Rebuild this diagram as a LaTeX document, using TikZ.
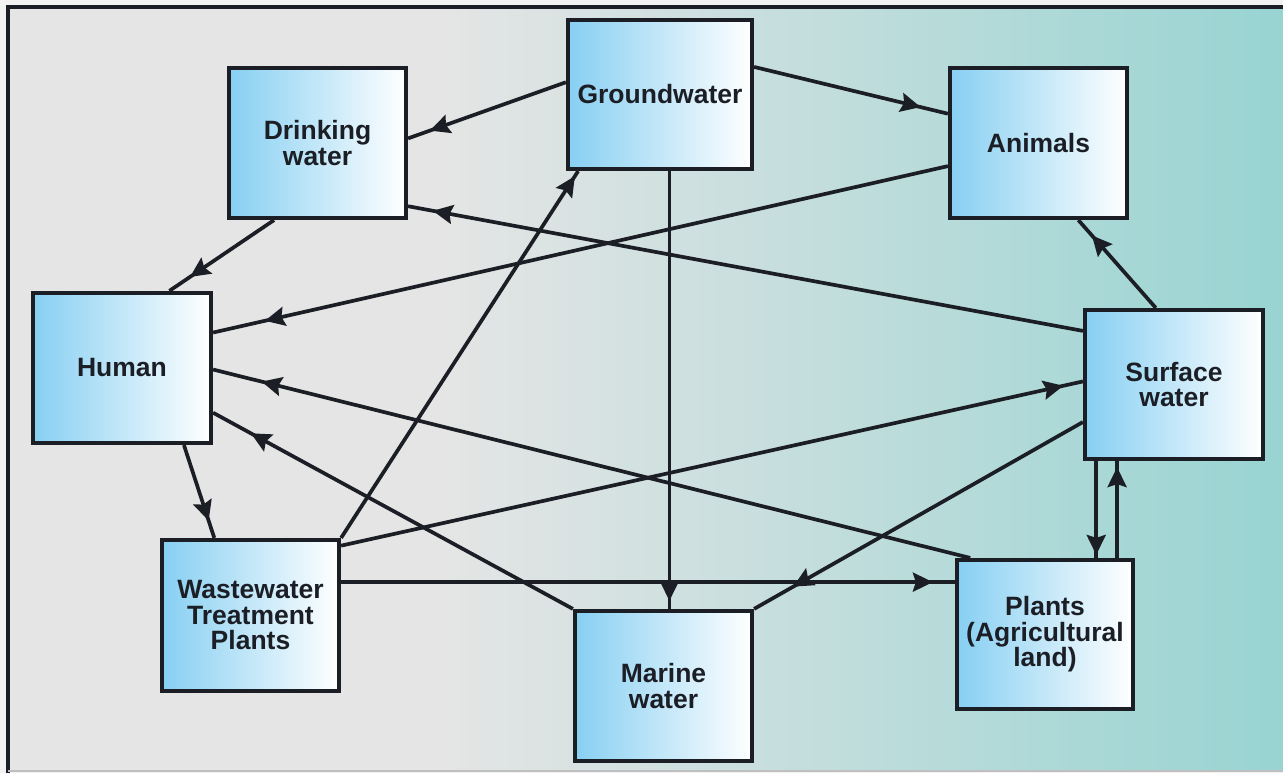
\documentclass[tikz,border=0pt]{standalone}
\usepackage{fontspec}
\setmainfont{Liberation Sans}
\usetikzlibrary{arrows.meta,decorations.markings,calc}
\definecolor{bgg}{RGB}{229,229,229}
\definecolor{bgt}{RGB}{152,212,210}
\definecolor{boxl}{RGB}{135,207,242}
\definecolor{ink}{RGB}{28,30,38}
\definecolor{outc}{RGB}{242,242,242}
\pgfdeclarehorizontalshading{bgsh}{100bp}{color(0bp)=(bgg); color(42bp)=(bgg); color(75bp)=(bgt); color(100bp)=(bgt)}
\begin{document}
\begin{tikzpicture}[x=1pt,y=-1pt,
 box/.style={draw=ink, line width=4.2pt, left color=boxl, right color=white,
   minimum width=177pt, minimum height=150pt, inner sep=0pt, align=center,
   font=\fontsize{26.5}{25.5}\selectfont\bfseries, text=ink},
 link/.style={draw=ink, line width=3.7pt},
 tipat/.style={postaction={decorate}, decoration={markings,
   mark=at position -#1 with {\arrow{Stealth[length=20pt,width=19pt,inset=3pt]}}}}
]
\useasboundingbox (0,0) rectangle (1283,773);
\fill[outc] (0,0) rectangle (1283,773);
\fill[shading=bgsh] (8,7) rectangle (1283,771);
\draw[ink, line width=4pt] (8,773) -- (8,7) -- (1283,7);
\draw[black!25, line width=1.5pt] (8,771) -- (1283,771);

% boxes
\node[box] (dw) at (317.5,143) {Drinking\\water};
\node[box, minimum width=184pt, minimum height=149pt] (gw) at (660,94.5) {Groundwater};
\node[box] (an) at (1038.5,143) {Animals};
\node[box, minimum width=178pt] (hu) at (122,368) {Human};
\node[box, minimum width=178pt, minimum height=149pt] (sw) at (1174,384.5) {Surface\\water};
\node[box, minimum height=151pt] (ww) at (250.5,615.5) {Wastewater\\Treatment\\Plants};
\node[box] (mw) at (663.5,686) {Marine\\water};
\node[box, minimum width=176pt, minimum height=149pt] (pl) at (1045,634.5) {Plants\\(Agricultural\\land)};

% anchor points on borders
\coordinate (gwW) at ($(gw.north west)!0.42!(gw.south west)$);
\coordinate (dwE1) at ($(dw.north east)!0.47!(dw.south east)$);
\coordinate (gwE) at ($(gw.north east)!0.32!(gw.south east)$);
\coordinate (anW1) at ($(an.north west)!0.31!(an.south west)$);
\coordinate (gwS1) at ($(gw.south west)!0.55!(gw.south east)$);
\coordinate (dwS) at ($(dw.south west)!0.26!(dw.south east)$);
\coordinate (huN) at ($(hu.north west)!0.76!(hu.north east)$);
\coordinate (anW2) at ($(an.north west)!0.65!(an.south west)$);
\coordinate (huE1) at ($(hu.north east)!0.27!(hu.south east)$);
\coordinate (swW1) at ($(sw.north west)!0.15!(sw.south west)$);
\coordinate (dwE2) at ($(dw.north east)!0.91!(dw.south east)$);
\coordinate (swN) at ($(sw.north west)!0.40!(sw.north east)$);
\coordinate (anS) at ($(an.south west)!0.72!(an.south east)$);
\coordinate (huS) at ($(hu.south west)!0.84!(hu.south east)$);
\coordinate (wwN) at ($(ww.north west)!0.30!(ww.north east)$);
\coordinate (huE3) at ($(hu.north east)!0.79!(hu.south east)$);
\coordinate (plN1) at ($(pl.north west)!0.085!(pl.north east)$);
\coordinate (huE2) at ($(hu.north east)!0.51!(hu.south east)$);
\coordinate (wwE1) at ($(ww.north east)!0.05!(ww.south east)$);
\coordinate (swW2) at ($(sw.north west)!0.48!(sw.south west)$);
\coordinate (gwS2) at ($(gw.south west)!0.065!(gw.south east)$);
\coordinate (wwE2) at ($(ww.north east)!0.285!(ww.south east)$);
\coordinate (swW3) at ($(sw.north west)!0.745!(sw.south west)$);
\coordinate (swS1) at ($(sw.south west)!0.073!(sw.south east)$);
\coordinate (plN2) at ($(pl.north west)!0.90!(pl.north east)$);

% connectors
\draw[link, tipat=23pt] (gwW) -- (dwE1);
\draw[link, tipat=28pt] (gwE) -- (anW1);
\draw[link, tipat=8pt] (gwS1) -- (gwS1 |- mw.north);
\draw[link, tipat=25pt] (dwS) -- (huN);
\draw[link, tipat=53pt] (anW2) -- (huE1);
\draw[link, tipat=25pt] (swW1) -- (dwE2);
\draw[link, tipat=20pt] (swN) -- (anS);
\draw[link, tipat=18pt] (huS) -- (wwN);
\draw[link, tipat=43pt] (mw.north west) -- (huE3);
\draw[link, tipat=50pt] (plN1) -- (huE2);
\draw[link, tipat=20pt] (wwE1) -- (swW2);
\draw[link, tipat=6pt] (ww.north east) -- (gwS2);
\draw[link, tipat=22pt] (wwE2) -- (wwE2 -| pl.west);
\draw[link, tipat=45pt] (swW3) -- (mw.north east);
\draw[link, tipat=3pt] (swS1) -- (swS1 |- pl.north);
\draw[link, tipat=6pt] (plN2) -- (plN2 |- sw.south);
\end{tikzpicture}
\end{document}
